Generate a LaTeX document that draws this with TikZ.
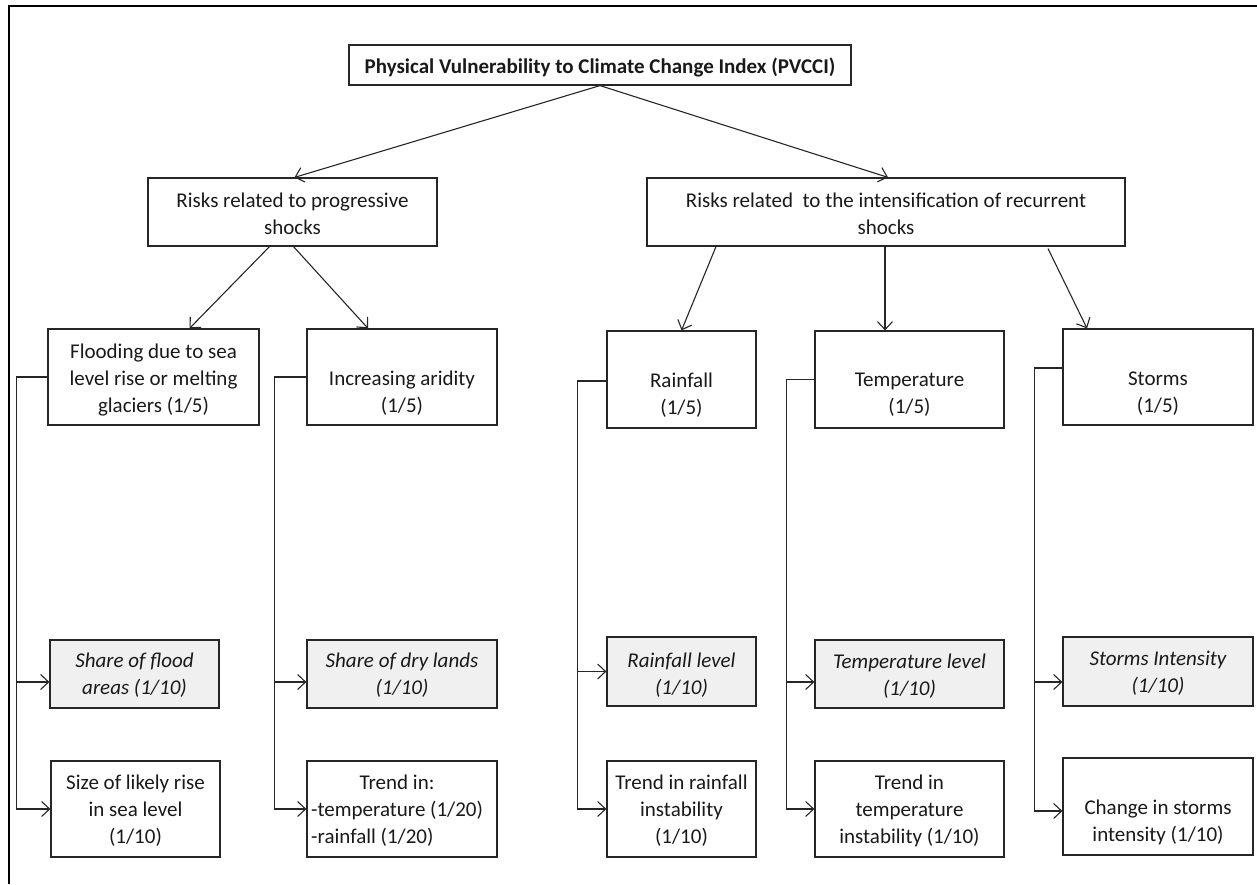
\documentclass[tikz,border=0pt]{standalone}
\usepackage{fontspec}
\setmainfont{Carlito}
\usetikzlibrary{arrows.meta}
\begin{document}
\begin{tikzpicture}[x=1pt,y=-1pt,
  box/.style={draw=black!85, line width=1.2pt, inner sep=0pt},
  gbox/.style={box, fill=black!6},
  txt/.style={font=\fontsize{21}{27}\selectfont, align=center, inner sep=0pt, text=black!90},
  itxt/.style={txt, font=\fontsize{21}{27}\selectfont\itshape},
  arr/.style={line width=1.1pt, draw=black!85, -{Straight Barb[length=8pt,width=15pt,line width=1.1pt]}},
  link/.style={line width=1.1pt, draw=black!85}]
\useasboundingbox (0,0) rectangle (1257,884);
% outer frame (partly cropped)
\draw[line width=1.4pt] (9,884) -- (9,6) -- (1257,6);

% boxes
\node[box, minimum width=502pt, minimum height=40pt] (top) at (600,65) {};
\node[box, minimum width=289pt, minimum height=68pt] (prog) at (292.5,212) {};
\node[box, minimum width=478pt, minimum height=68pt] (intens) at (886,212) {};
\node[box, minimum width=211pt, minimum height=96pt] (flood) at (153.5,377) {};
\node[box, minimum width=190pt, minimum height=96pt] (arid) at (402,377) {};
\node[box, minimum width=149pt, minimum height=97pt] (rain) at (681.5,379.5) {};
\node[box, minimum width=189pt, minimum height=97pt] (temp) at (909.5,379.5) {};
\node[box, minimum width=190pt, minimum height=96pt] (storm) at (1158,377) {};

\node[gbox, minimum width=169pt, minimum height=68pt] (sfa) at (134.5,674) {};
\node[box, minimum width=169pt, minimum height=96pt] (size) at (135.5,809) {};
\node[gbox, minimum width=190pt, minimum height=68pt] (sdl) at (402,674) {};
\node[box, minimum width=190pt, minimum height=96pt] (trend) at (402,809) {};
\node[gbox, minimum width=149pt, minimum height=69pt] (rl) at (681.5,671.5) {};
\node[box, minimum width=149pt, minimum height=96pt] (tri) at (681.5,809) {};
\node[gbox, minimum width=189pt, minimum height=68pt] (tl) at (909.5,674) {};
\node[box, minimum width=189pt, minimum height=96pt] (tti) at (909.5,809) {};
\node[gbox, minimum width=190pt, minimum height=69pt] (si) at (1158,671.5) {};
\node[box, minimum width=190pt, minimum height=97pt] (csi) at (1158,806.5) {};

% texts
\node[txt, font=\fontsize{21}{27}\selectfont\bfseries] (topt) at (600,67) {Physical Vulnerability to Climate Change Index (PVCCI)};
\node[txt] (progt) at (292.5,214) {Risks related to progressive\\shocks};
\node[txt] (intenst) at (886,214) {Risks related\ \ to the intensification of recurrent\\shocks};
\node[txt] (floodt) at (153.5,380) {Flooding due to sea\\level rise or melting\\glaciers (1/5)};
\node[txt] (aridt) at (402,393.5) {Increasing aridity\\(1/5)};
\node[txt] (raint) at (681.5,395) {Rainfall\\(1/5)};
\node[txt] (tempt) at (909.5,395) {Temperature\\(1/5)};
\node[txt] (stormt) at (1158,393.5) {Storms\\(1/5)};

\node[itxt] (sfat) at (134.5,675.5) {Share of flood\\areas (1/10)};
\node[txt] (sizet) at (135.5,811) {Size of likely rise\\in sea level\\(1/10)};
\node[itxt] (sdlt) at (402,675.5) {Share of dry lands\\(1/10)};
\node[txt, anchor=north west] (trendt) at (311,770) {\begin{tabular}{@{}l@{}}\multicolumn{1}{@{}c@{}}{Trend in:}\\-temperature (1/20)\\-rainfall (1/20)\end{tabular}};
\node[itxt] (rlt) at (681.5,675) {Rainfall level\\(1/10)};
\node[txt] (trit) at (681.5,811) {Trend in rainfall\\instability\\(1/10)};
\node[itxt] (tlt) at (909.5,676) {Temperature level\\(1/10)};
\node[txt] (ttit) at (909.5,811) {Trend in\\temperature\\instability (1/10)};
\node[itxt] (sit) at (1158,673.5) {Storms Intensity\\(1/10)};
\node[txt] (csit) at (1158,822.5) {Change in storms\\intensity (1/10)};

% top-level arrows
\draw[arr] (top.south) -- ([xshift=2pt]prog.north);
\draw[arr] (top.south) -- ([xshift=2pt]intens.north);
\draw[arr] ([xshift=-23pt]prog.south) -- ([xshift=36pt]flood.north);
\draw[arr] ([xshift=1pt]prog.south) -- ([xshift=-34pt]arid.north);
\draw[arr] ([xshift=-170pt]intens.south) -- (rain.north);
\draw[arr] ([xshift=-1pt]intens.south) -- ([xshift=-24.5pt]temp.north);
\draw[arr] ([xshift=162pt,yshift=-2pt]intens.south) -- ([xshift=-71pt]storm.north);

% elbow connectors
\draw[arr] (flood.west) -- ++(-31,0) |- ([yshift=-8pt]sfa.west);
\draw[arr] (flood.west) -- ++(-31,0) |- (size.west);
\draw[arr] (arid.west) -- ++(-32,0) |- ([yshift=-8pt]sdl.west);
\draw[arr] (arid.west) -- ++(-32,0) |- (trend.west);
\draw[arr] ([yshift=-1.5pt]rain.west) -- ++(-29,0) |- (rl.west);
\draw[arr] ([yshift=-1.5pt]rain.west) -- ++(-29,0) |- (tri.west);
\draw[arr] (temp.west) -- ++(-28,0) |- ([yshift=-8pt]tl.west);
\draw[arr] (temp.west) -- ++(-28,0) |- (tti.west);
\draw[arr] ([yshift=9pt]storm.west) -- ++(-28,0) |- ([yshift=-10.5pt]si.west);
\draw[arr] ([yshift=9pt]storm.west) -- ++(-28,0) |- ([yshift=-4.5pt]csi.west);
\end{tikzpicture}
\end{document}
